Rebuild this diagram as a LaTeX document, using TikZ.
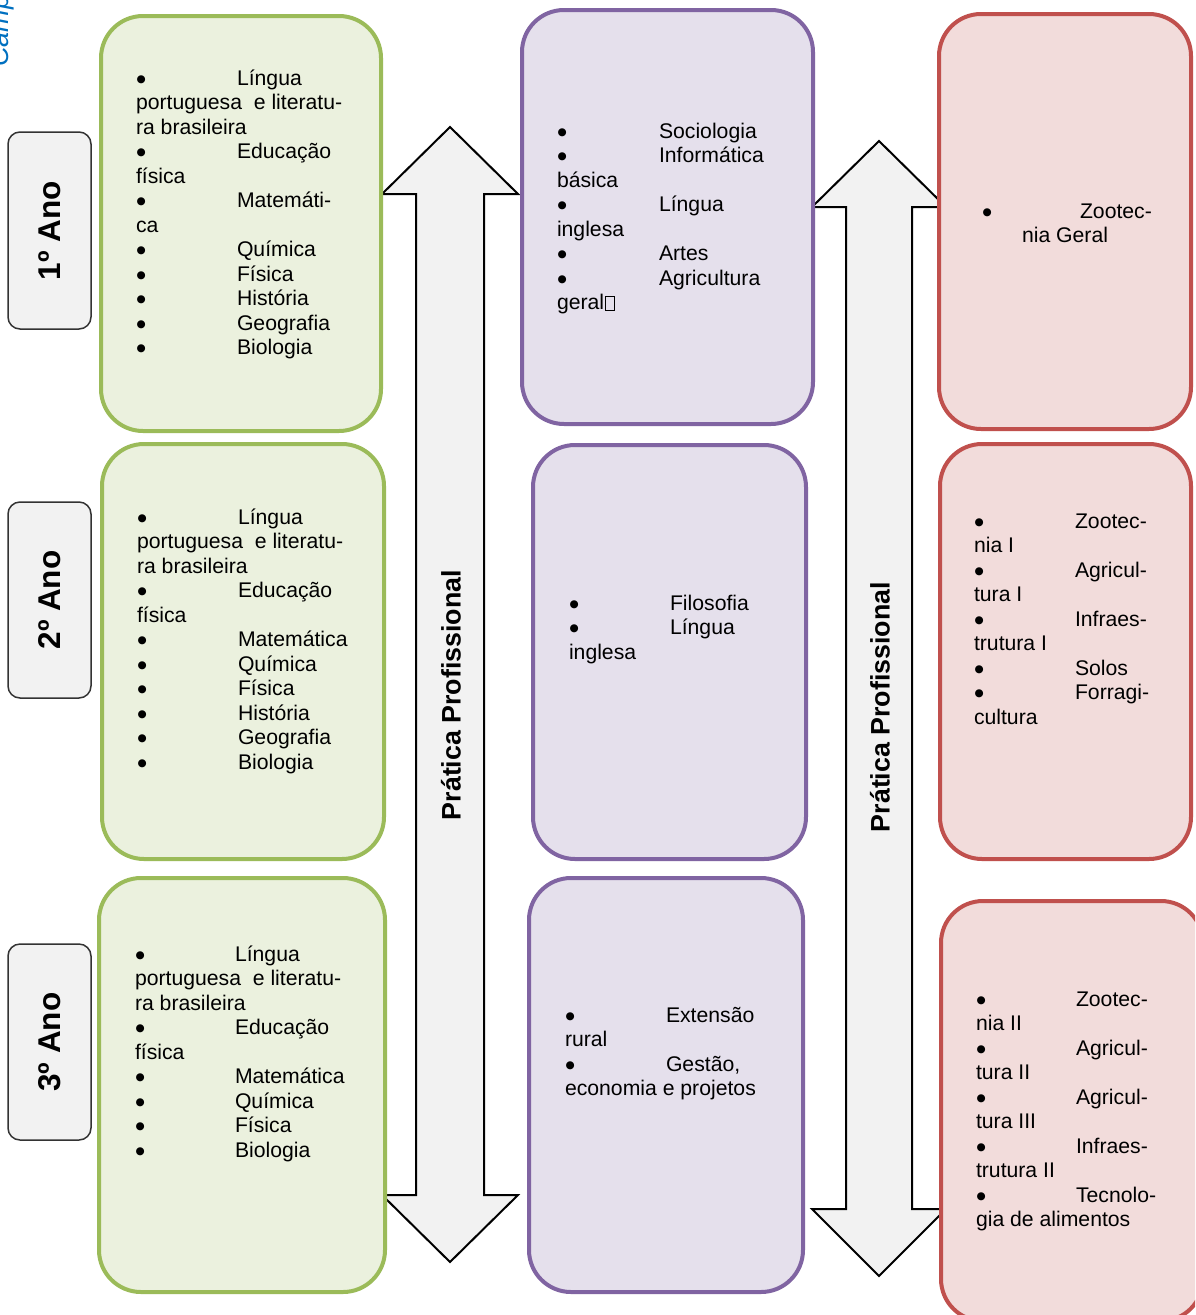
\documentclass[tikz,border=0pt]{standalone}
\usepackage{fontspec}
\setmainfont{Liberation Sans}
\newfontfamily\dejavu{DejaVu Sans}
\definecolor{gborder}{RGB}{155,187,89}
\definecolor{gfill}{RGB}{235,241,222}
\definecolor{pborder}{RGB}{128,100,162}
\definecolor{pfill}{RGB}{229,224,236}
\definecolor{rborder}{RGB}{192,80,77}
\definecolor{rfill}{RGB}{242,220,219}
\definecolor{lightgr}{RGB}{242,242,242}
\definecolor{campblue}{RGB}{0,112,192}
\newcommand{\bigbul}{\kern0.5pt{\dejavu\fontsize{10.5}{0}\selectfont\raisebox{2.6pt}{●}}}
\newcommand{\bi}[2]{\makebox[#1][l]{\bigbul}#2}
\newcommand{\nobox}{\kern1pt{\setlength\fboxsep{0pt}\setlength\fboxrule{0.7pt}\fbox{\rule{0pt}{13pt}\hspace{8pt}}}}
\tikzset{
  cbox/.style={rounded corners=42pt, line width=4pt},
  gbox/.style={cbox, draw=gborder, fill=gfill},
  pbox/.style={cbox, draw=pborder, fill=pfill},
  rbox/.style={cbox, draw=rborder, fill=rfill},
  txt/.style={anchor=north west, inner sep=0pt, outer sep=0pt, align=left,
              font=\fontsize{21.2}{24.5}\selectfont},
  yearbox/.style={draw=black!80, fill=lightgr, rounded corners=12pt, line width=1.5pt},
  yeartxt/.style={rotate=90, inner sep=0pt, font=\bfseries\fontsize{31.5}{31.5}\selectfont},
  parrow/.style={draw=black, line width=2pt, fill=lightgr, line join=miter},
  plabel/.style={rotate=90, inner sep=0pt, font=\bfseries\fontsize{26.8}{26.8}\selectfont}
}
\begin{document}
\begin{tikzpicture}[x=1pt,y=-1pt]
\useasboundingbox (0,0) rectangle (1195,1315);
\fill[white] (0,0) rectangle (1195,1315);
\clip (0,0) rectangle (1195,1315);

% arrows (behind boxes)
\draw[parrow] (450,127) -- (518,194) -- (484,194) -- (484,1195) -- (518,1195)
  -- (450,1262) -- (382,1195) -- (416,1195) -- (416,194) -- (382,194) -- cycle;
\draw[parrow] (879,141) -- (946,207) -- (912,207) -- (912,1209) -- (946,1209)
  -- (879,1276) -- (812,1209) -- (846,1209) -- (846,207) -- (812,207) -- cycle;
\node[plabel] (pl1) at (451,695) {Prática Profissional};
\node[plabel] (pl2) at (880,707) {Prática Profissional};

% year labels
\node[yearbox, minimum width=83pt, minimum height=197pt] (y1) at (49.5,230.5) {};
\node[yearbox, minimum width=83pt, minimum height=196pt] (y2) at (49.5,600) {};
\node[yearbox, minimum width=83pt, minimum height=196pt] (y3) at (49.5,1042) {};
\node[yeartxt] (t1) at (y1.center) {1º Ano};
\node[yeartxt] (t2) at (y2.center) {2º Ano};
\node[yeartxt] (t3) at (y3.center) {3º Ano};

% green boxes
\node[gbox, minimum width=280pt, minimum height=415pt] (g1) at (241,223.5) {};
\node[gbox, minimum width=282pt, minimum height=415pt] (g2) at (243,651.5) {};
\node[gbox, minimum width=286pt, minimum height=414pt] (g3) at (242,1085) {};
% purple boxes
\node[pbox, minimum width=291pt, minimum height=414pt] (p1) at (667.5,217) {};
\node[pbox, minimum width=273pt, minimum height=414pt] (p2) at (669.5,652) {};
\node[pbox, minimum width=274pt, minimum height=414pt] (p3) at (666,1085) {};
% red boxes
\node[rbox, minimum width=252pt, minimum height=415pt] (r1) at (1065,221.5) {};
\node[rbox, minimum width=251pt, minimum height=415pt] (r2) at (1065.5,651.5) {};
\node[rbox, minimum width=262pt, minimum height=420pt] (r3) at (1072,1111) {};

% texts
\node[txt] (g1t) at (136,67.85) {\strut\bi{101pt}{Língua}\\
portuguesa\ \ e literatu-\\
ra brasileira\\
\bi{101pt}{Educação}\\
física\\
\bi{101pt}{Matemáti-}\\
ca\\
\bi{101pt}{Química}\\
\bi{101pt}{Física}\\
\bi{101pt}{História}\\
\bi{101pt}{Geografia}\\
\bi{101pt}{Biologia}};

\node[txt] (g2t) at (137,506.85) {\strut\bi{101pt}{Língua}\\
portuguesa\ \ e literatu-\\
ra brasileira\\
\bi{101pt}{Educação}\\
física\\
\bi{101pt}{Matemática}\\
\bi{101pt}{Química}\\
\bi{101pt}{Física}\\
\bi{101pt}{História}\\
\bi{101pt}{Geografia}\\
\bi{101pt}{Biologia}};

\node[txt] (g3t) at (135,943.85) {\strut\bi{100pt}{Língua}\\
portuguesa\ \ e literatu-\\
ra brasileira\\
\bi{100pt}{Educação}\\
física\\
\bi{100pt}{Matemática}\\
\bi{100pt}{Química}\\
\bi{100pt}{Física}\\
\bi{100pt}{Biologia}};

\node[txt] (p1t) at (557,120.85) {\strut\bi{102pt}{Sociologia}\\
\bi{102pt}{Informática}\\
básica\\
\bi{102pt}{Língua}\\
inglesa\\
\bi{102pt}{Artes}\\
\bi{102pt}{Agricultura}\\
geral\nobox};

\node[txt] (p2t) at (569,592.85) {\strut\bi{101pt}{Filosofia}\\
\bi{101pt}{Língua}\\
inglesa};

\node[txt] (p3t) at (565,1004.85) {\strut\bi{101pt}{Extensão}\\
rural\\
\bi{101pt}{Gestão,}\\
economia e projetos};

\node[txt] (r1t) at (1022,200.85) {\strut\hspace*{-40pt}\bi{98pt}{Zootec-}\\
nia Geral};

\node[txt] (r2t) at (974,510.85) {\strut\bi{101pt}{Zootec-}\\
nia I\\
\bi{101pt}{Agricul-}\\
tura I\\
\bi{101pt}{Infraes-}\\
trutura I\\
\bi{101pt}{Solos}\\
\bi{101pt}{Forragi-}\\
cultura};

\node[txt] (r3t) at (976,988.85) {\strut\bi{100pt}{Zootec-}\\
nia II\\
\bi{100pt}{Agricul-}\\
tura II\\
\bi{100pt}{Agricul-}\\
tura III\\
\bi{100pt}{Infraes-}\\
trutura II\\
\bi{100pt}{Tecnolo-}\\
gia de alimentos};

% side text, cut off at the page edge as in the reference
\node[anchor=base west, rotate=90, inner sep=0pt, text=campblue,
      font=\itshape\fontsize{27}{27}\selectfont] (camp) at (9,67) {Camp};
\end{tikzpicture}
\end{document}
